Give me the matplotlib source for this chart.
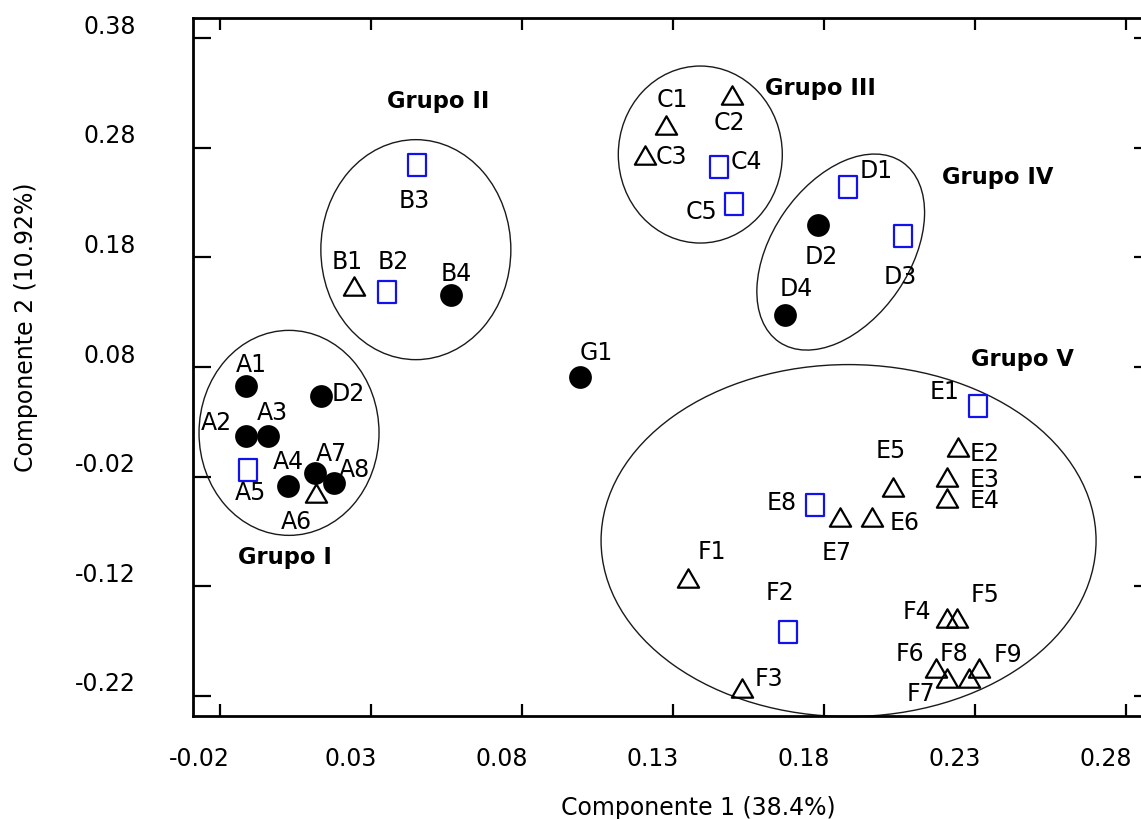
import matplotlib
matplotlib.use("Agg")
import matplotlib.pyplot as plt
import matplotlib.transforms as mtransforms
from matplotlib.path import Path
from matplotlib.patches import Ellipse
from matplotlib.markers import MarkerStyle

plt.rcParams['font.family'] = ['DejaVu Sans']
plt.rcParams['axes.unicode_minus'] = False

# ---------------------------------------------------------------- data
# PCA scores (Componente 1, Componente 2), split by marker type
circle_names = ["A1", "A2", "A3", "A4", "A7", "A8", "D2", "B4", "D2", "D4", "G1"]
circle_x = [-0.0116, -0.0117, -0.0042, 0.0025, 0.0113, 0.0176, 0.0132, 0.0562, 0.1778, 0.1669, 0.0990]
circle_y = [0.0627, 0.0167, 0.0167, -0.0285, -0.0164, -0.0255, 0.0536, 0.1453, 0.2098, 0.1271, 0.0712]

triangle_names = ["A6", "B1", "C1", "C2", "C3", "E2", "E3", "E4", "E5", "E6", "E7",
                  "F1", "F3", "F4", "F5", "F6", "F7", "F8", "F9"]
triangle_x = [0.0116, 0.0241, 0.1277, 0.1493, 0.1206, 0.2241, 0.2206, 0.2206, 0.2027, 0.1956, 0.1850,
              0.1349, 0.1528, 0.2207, 0.2240, 0.2171, 0.2205, 0.2280, 0.2313]
triangle_y = [-0.0352, 0.1537, 0.3011, 0.3285, 0.2734, 0.0072, -0.0205, -0.0393, -0.0294, -0.0568, -0.0568,
              -0.1123, -0.2133, -0.1492, -0.1492, -0.1948, -0.2039, -0.2039, -0.1948]

square_names = ["A5", "B2", "B3", "C4", "C5", "D1", "D3", "E1", "E8", "F2"]
square_x = [-0.0108, 0.0351, 0.0452, 0.1450, 0.1499, 0.1879, 0.2059, 0.2308, 0.1768, 0.1678]
square_y = [-0.0136, 0.1489, 0.2640, 0.2628, 0.2285, 0.2446, 0.1996, 0.0444, -0.0462, -0.1615]

# group labels and their ellipses (centre in data units)
group_names = ["Grupo I", "Grupo II", "Grupo III", "Grupo IV", "Grupo V"]
group_label_x = [0.0015, 0.0522, 0.1788, 0.2373, 0.2456]
group_label_y = [-0.0993, 0.3170, 0.3292, 0.2480, 0.0815]
ellipse_cx = [0.0027, 0.0447, 0.1389, 0.1854, 0.1880]
ellipse_cy = [0.0199, 0.1871, 0.2739, 0.1849, -0.0784]

x_ticks = [-0.02, 0.03, 0.08, 0.13, 0.18, 0.23, 0.28]
x_tick_labels = ["-0.02", "0.03", "0.08", "0.13", "0.18", "0.23", "0.28"]
y_ticks = [-0.22, -0.12, -0.02, 0.08, 0.18, 0.28, 0.38]
y_tick_labels = ["-0.22", "-0.12", "-0.02", "0.08", "0.18", "0.28", "0.38"]

x_title = "Componente 1 (38.4%)"
y_title = "Componente 2 (10.92%)"

# ---------------------------------------------------------------- layout
# label offsets from each marker, in pixels (right, down)
circle_label_off = [(5, -24), (-29, -16), (4, -26), (0, -27), (16, -21), (20, -15),
                    (28, -5), (6, -24), (3, 30), (11, -29), (16, -26)]
triangle_label_off = [(-19.5, 26), (-6, -27), (6, -27), (-2, 26), (26, -1), (27, 5), (38, 0),
                      (38, 1), (-2, -39), (33, 3), (-3, 33), (24, -28), (26.5, -12.5),
                      (-30, -9), (27.5, -25.5), (-26.7, -17), (-26, 13), (-15, -27), (29, -16)]
square_label_off = [(2, 21), (6, -32), (-3, 33), (28, -7), (-32, 5), (28, -18), (-2, 38),
                    (-33, -16.5), (-33, -5), (-8, -41)]
# ellipse sizes in pixels (width, height, angle)
ellipse_size = [(180, 205, 0), (190, 220, 0), (164, 177, 0), (218, 138, 55.6), (495, 352, 0)]

W, H, DPI = 1141, 820, 100
PT = 72.0 / DPI            # points per pixel
FS = 17                    # label font size (pt)
CAP = 0.729 * FS / PT      # cap height in px

fig = plt.figure(figsize=(W / DPI, H / DPI), dpi=DPI)
L, R, T, B = 193, 1146, 19, 716.7
ax = fig.add_axes([L / W, 1 - B / H, (R - L) / W, (B - T) / H])
ax.set_xlim(-0.0291, 0.2865)
ax.set_ylim(-0.2382, 0.3985)

# markers
tri = Path([(-0.5, -0.433), (0.5, -0.433), (0.0, 0.433), (-0.5, -0.433)],
           [Path.MOVETO, Path.LINETO, Path.LINETO, Path.CLOSEPOLY])
rect = Path([(-0.4, -0.5), (0.4, -0.5), (0.4, 0.5), (-0.4, 0.5), (-0.4, -0.5)],
            [Path.MOVETO, Path.LINETO, Path.LINETO, Path.LINETO, Path.CLOSEPOLY])
tri_m = MarkerStyle(tri, joinstyle='miter')
rect_m = MarkerStyle(rect, joinstyle='miter')

ax.plot(circle_x, circle_y, linestyle='none', marker='o', markersize=16.4,
        markerfacecolor='black', markeredgewidth=0, zorder=3)
ax.plot(triangle_x, triangle_y, linestyle='none', marker=tri_m, markersize=15.3,
        markerfacecolor='none', markeredgecolor='black', markeredgewidth=1.6, zorder=3)
ax.plot(square_x, square_y, linestyle='none', marker=rect_m, markersize=16.0,
        markerfacecolor='none', markeredgecolor='#1212ee', markeredgewidth=1.6, zorder=3)


def label_points(names, xs, ys, offs):
    for n, x, y, (dx, dy) in zip(names, xs, ys, offs):
        ax.annotate(n, (x, y), xytext=(dx * PT, -(dy + CAP / 2) * PT),
                    textcoords='offset points', ha='center', va='baseline',
                    fontsize=FS, color='black', zorder=4)


label_points(circle_names, circle_x, circle_y, circle_label_off)
label_points(triangle_names, triangle_x, triangle_y, triangle_label_off)
label_points(square_names, square_x, square_y, square_label_off)

# group ellipses, sized in screen units around a data-space centre
for cx, cy, (w, h, ang) in zip(ellipse_cx, ellipse_cy, ellipse_size):
    tr = fig.dpi_scale_trans + mtransforms.ScaledTranslation(cx, cy, ax.transData)
    e = Ellipse((0, 0), w / DPI, h / DPI, angle=ang, transform=tr,
                facecolor='none', edgecolor='#1a1a1a', linewidth=1.0,
                clip_on=False, zorder=2)
    ax.add_patch(e)

for name, x, y in zip(group_names, group_label_x, group_label_y):
    ax.text(x, y, name, fontsize=16.3, fontweight='bold', ha='center',
            va='baseline', zorder=4)

# axes frame and ticks
for sp in ax.spines.values():
    sp.set_linewidth(2.0)
ax.set_xticks(x_ticks, labels=x_tick_labels)
ax.set_yticks(y_ticks, labels=y_tick_labels)
ax.tick_params(axis='both', direction='in', width=1.6, labelsize=FS, colors='black')
ax.tick_params(axis='x', length=8.6, pad=22, top=True)
ax.tick_params(axis='y', length=13, pad=41)

sec = ax.secondary_yaxis('right')
sec.set_yticks(y_ticks, labels=[''] * len(y_ticks))
sec.tick_params(direction='in', length=9, width=1.6)
sec.spines['right'].set_linewidth(2.0)

shift_x = mtransforms.ScaledTranslation(-21 / DPI, 0, fig.dpi_scale_trans)
for lab in ax.get_xticklabels():
    lab.set_transform(lab.get_transform() + shift_x)
shift_y = mtransforms.ScaledTranslation(0, 15 / DPI, fig.dpi_scale_trans)
for lab in ax.get_yticklabels():
    lab.set_transform(lab.get_transform() + shift_y)

ax.set_xlabel(x_title, fontsize=FS)
ax.xaxis.set_label_coords((698 - L) / (R - L), (B - 815.3) / (B - T))
ax.xaxis.label.set_va('baseline')
ax.set_ylabel(y_title, fontsize=FS)
ax.yaxis.set_label_coords((26.5 - L) / (R - L), (B - 327) / (B - T))
ax.yaxis.label.set_va('center')

fig.savefig('out.png', dpi=DPI)
